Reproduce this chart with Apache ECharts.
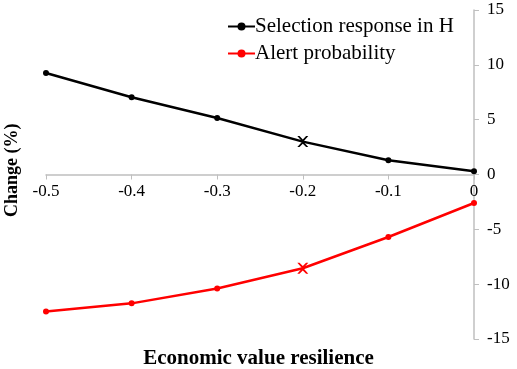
<!DOCTYPE html>
<html>
<head>
<meta charset="utf-8">
<script src="https://cdn.jsdelivr.net/npm/echarts@6/dist/echarts.min.js"></script>
<style>
  html, body { margin: 0; padding: 0; background: #fff; }
  #chart { width: 517px; height: 369px; }
</style>
</head>
<body>
<div id="chart"></div>
<script>
// data
const resilience = [-0.5, -0.4, -0.3, -0.2, -0.1, 0]
const selectionResponse = [9.25, 7.05, 5.15, 3.0, 1.3, 0.3]
const alertProbability = [-12.5, -11.75, -10.4, -8.55, -5.7, -2.6]
const yTicks = [-15, -10, -5, 0, 5, 10, 15]
const highlightX = -0.2 // point drawn with a cross

const crossPath = 'path://M0,0L2,0L5,3L8,0L10,0L6,4.5L6,5.5L10,10L8,10L5,7L2,10L0,10L4,5.5L4,4.5Z'
const serifFont = '"Liberation Serif", "DejaVu Serif", serif'

function pairs(values) {
  return resilience.map((x, i) => {
    let item = { value: [x, values[i]] }
    if (x === highlightX) {
      item.symbol = crossPath
      item.symbolSize = 11
    }
    return item
  })
}

let myChart = echarts.init(document.getElementById('chart'))
const gridTop = 10
const gridBottom = 30
const plotHeight = 369 - gridTop - gridBottom
// distance from the bottom of the grid to the zero line
const zeroOffset = plotHeight * (0 - yTicks[0]) / (yTicks[yTicks.length - 1] - yTicks[0])

let option = {
  animation: false,
  textStyle: { fontFamily: serifFont },
  grid: { left: 46, right: 43, top: gridTop, bottom: gridBottom },
  legend: {
    left: 222,
    top: 11,
    orient: 'vertical',
    itemGap: 6,
    itemWidth: 27,
    itemHeight: 10,
    textStyle: { fontFamily: serifFont, fontSize: 21, color: '#000', padding: [0, 0, 0, -5] },
    data: ['Selection response in H', 'Alert probability']
  },
  graphic: [
    {
      type: 'text',
      x: 3,
      y: 217,
      rotation: Math.PI / 2,
      style: { text: 'Change (%)', font: 'bold 18px ' + serifFont, fill: '#000' }
    },
    {
      type: 'text',
      left: 'center',
      top: 348,
      style: { text: 'Economic value resilience', font: 'bold 21px ' + serifFont, fill: '#000' }
    }
  ],
  xAxis: {
    type: 'value',
    min: resilience[0],
    max: resilience[resilience.length - 1],
    interval: 0.1,
    offset: -zeroOffset,
    axisLine: { onZero: false, lineStyle: { color: '#bfbfbf', width: 1.5 } },
    axisTick: { show: true, length: 5, lineStyle: { color: '#bfbfbf' } },
    splitLine: { show: false },
    axisLabel: {
      margin: 9,
      fontSize: 17,
      color: '#000',
      fontFamily: serifFont,
      formatter: v => (Math.abs(v) < 1e-9 ? '0' : v.toFixed(1))
    }
  },
  yAxis: {
    type: 'value',
    position: 'right',
    min: yTicks[0],
    max: yTicks[yTicks.length - 1],
    interval: 5,
    axisLine: { show: true, lineStyle: { color: '#bfbfbf', width: 1.5 } },
    axisTick: { show: true, length: 5, lineStyle: { color: '#bfbfbf' } },
    splitLine: { show: false },
    axisLabel: { margin: 13, fontSize: 17, color: '#000', fontFamily: serifFont }
  },
  series: [
    {
      name: 'Selection response in H',
      type: 'line',
      data: pairs(selectionResponse),
      symbol: 'circle',
      symbolSize: 6,
      lineStyle: { color: '#000', width: 2.5 },
      itemStyle: { color: '#000' }
    },
    {
      name: 'Alert probability',
      type: 'line',
      data: pairs(alertProbability),
      symbol: 'circle',
      symbolSize: 6,
      lineStyle: { color: '#ff0000', width: 2.5 },
      itemStyle: { color: '#ff0000' }
    }
  ]
}
myChart.setOption(option)
</script>
</body>
</html>
